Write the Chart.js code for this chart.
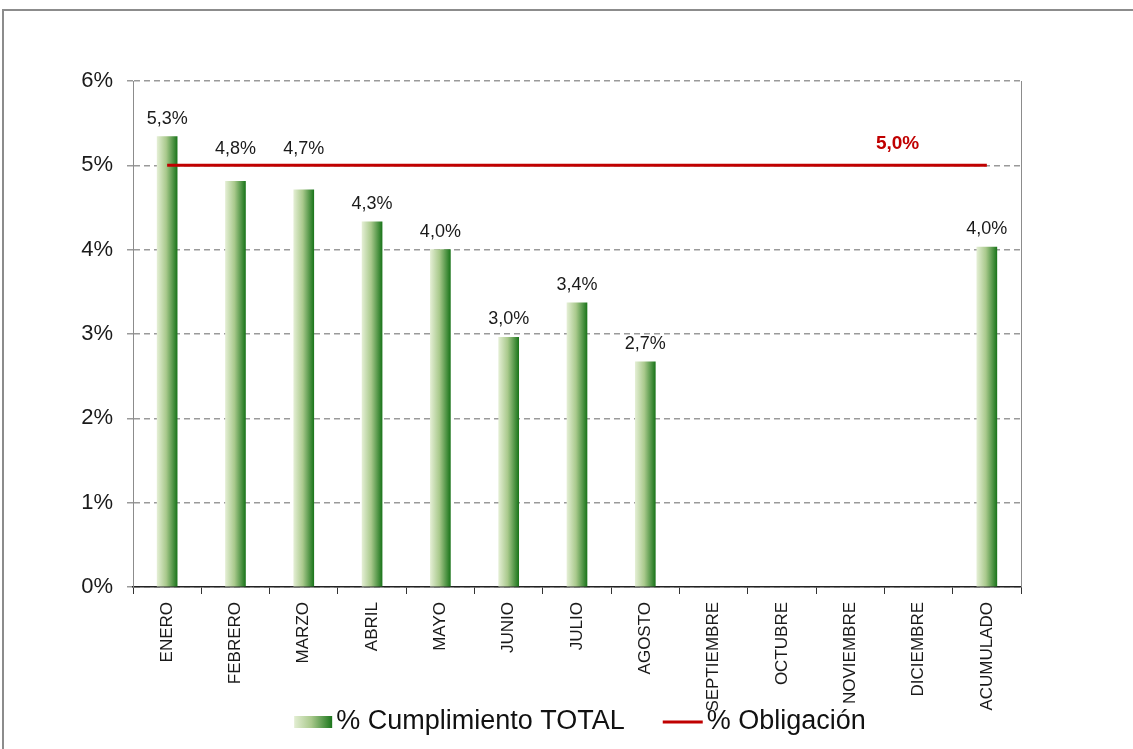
<!DOCTYPE html>
<html>
<head>
<meta charset="utf-8">
<script src="https://cdn.jsdelivr.net/npm/chart.js@4.4.1/dist/chart.umd.min.js"></script>
<style>
  html, body { margin: 0; padding: 0; background: #ffffff; }
  #wrap { width: 1133px; height: 749px; position: relative; }
</style>
</head>
<body>
<div id="wrap"><canvas id="c" width="1133" height="749"></canvas></div>
<script>
// ---- data ----
const categories = ["ENERO", "FEBRERO", "MARZO", "ABRIL", "MAYO", "JUNIO", "JULIO", "AGOSTO", "SEPTIEMBRE", "OCTUBRE", "NOVIEMBRE", "DICIEMBRE", "ACUMULADO"];
const cumplimiento = [5.34, 4.81, 4.71, 4.33, 4.00, 2.96, 3.37, 2.67, null, null, null, null, 4.03];
const obligacion = [5, 5, 5, 5, 5, 5, 5, 5, 5, 5, 5, 5, 5];
const yTicks = [0, 1, 2, 3, 4, 5, 6];
const seriesNames = ["% Cumplimiento TOTAL", "% Obligación"];

const FONT = '"Liberation Sans", Arial, sans-serif';
const BAR_W = 20;
const fmt = v => v.toFixed(1).replace('.', ',') + '%';

function barGradient(ctx) {
  const chart = ctx.chart;
  if (!chart.chartArea || !chart.scales.x) return '#5a9a4a';
  const x = chart.scales.x.getPixelForValue(ctx.dataIndex);
  const g = chart.ctx.createLinearGradient(x - BAR_W / 2, 0, x + BAR_W / 2, 0);
  g.addColorStop(0, '#e3eed3');
  g.addColorStop(0.45, '#a9c98c');
  g.addColorStop(1, '#1c761c');
  return g;
}

const framePlugin = {
  id: 'frame',
  beforeDraw(chart) {
    const c = chart.ctx;
    c.save();
    c.fillStyle = '#ffffff';
    c.fillRect(0, 0, chart.width, chart.height);
    c.strokeStyle = '#8c8c8c';
    c.lineWidth = 2;
    c.beginPath();
    c.moveTo(3, chart.height + 5);
    c.lineTo(3, 10);
    c.lineTo(chart.width + 5, 10);
    c.stroke();
    c.restore();
  },
  afterDraw(chart) {
    const a = chart.chartArea, c = chart.ctx;
    c.save();
    c.strokeStyle = '#8c8c8c';
    c.lineWidth = 1;
    c.beginPath();
    c.moveTo(a.right + 0.5, a.top);
    c.lineTo(a.right + 0.5, a.bottom);
    c.stroke();
    c.restore();
  }
};

const labelPlugin = {
  id: 'valueLabels',
  afterDatasetsDraw(chart) {
    const c = chart.ctx;
    const ys = chart.scales.y, xs = chart.scales.x;
    const meta = chart.getDatasetMeta(1);
    c.save();
    c.font = '18px ' + FONT;
    c.fillStyle = '#1a1a1a';
    c.textAlign = 'center';
    c.textBaseline = 'middle';
    meta.data.forEach((bar, i) => {
      const v = cumplimiento[i];
      if (v === null || v === undefined) return;
      let ly = bar.y - 18;
      const lineY = ys.getPixelForValue(obligacion[i]);
      if (v < obligacion[i] && ly + 10 > lineY - 3 && ly - 10 < lineY + 3) {
        ly = lineY - 16;
      }
      c.fillText(fmt(v), bar.x, ly);
    });
    const idx = 11;
    c.font = 'bold 19px ' + FONT;
    c.fillStyle = '#c00000';
    c.fillText(fmt(obligacion[idx]), xs.getPixelForValue(idx) - 21, ys.getPixelForValue(obligacion[idx]) - 22);
    c.restore();
  }
};

const legendPlugin = {
  id: 'customLegend',
  afterDraw(chart) {
    const c = chart.ctx;
    c.save();
    c.font = '27px ' + FONT;
    c.textBaseline = 'middle';
    c.textAlign = 'left';
    const y = 722;
    const boxW = 38, lineW = 40, gapT = 4, gapItems = 38;
    const w1 = c.measureText(seriesNames[0]).width;
    const w2 = c.measureText(seriesNames[1]).width;
    const total = boxW + gapT + w1 + gapItems + lineW + gapT + w2;
    let x = 580 - total / 2;
    const g = c.createLinearGradient(x, 0, x + boxW, 0);
    g.addColorStop(0, '#e3eed3');
    g.addColorStop(0.45, '#a9c98c');
    g.addColorStop(1, '#1c761c');
    c.fillStyle = g;
    c.fillRect(x, y - 6, boxW, 12);
    x += boxW + gapT;
    c.fillStyle = '#111';
    c.fillText(seriesNames[0], x, y);
    x += w1 + gapItems;
    c.strokeStyle = '#c00000';
    c.lineWidth = 3;
    c.beginPath();
    c.moveTo(x, y);
    c.lineTo(x + lineW, y);
    c.stroke();
    x += lineW + gapT;
    c.fillText(seriesNames[1], x, y);
    c.restore();
  }
};

new Chart(document.getElementById('c'), {
  type: 'bar',
  data: {
    labels: categories,
    datasets: [
      {
        type: 'line',
        label: seriesNames[1],
        data: obligacion,
        borderColor: '#c00000',
        borderWidth: 3,
        pointRadius: 0,
        fill: false,
        order: 0
      },
      {
        type: 'bar',
        label: seriesNames[0],
        data: cumplimiento,
        backgroundColor: barGradient,
        borderWidth: 0,
        barThickness: BAR_W,
        order: 1
      }
    ]
  },
  options: {
    responsive: false,
    animation: false,
    devicePixelRatio: 1,
    layout: { padding: { left: 0, right: 112, top: 81, bottom: 0 } },
    plugins: {
      legend: { display: false },
      tooltip: { enabled: false },
      title: { display: false }
    },
    scales: {
      x: {
        offset: true,
        grid: {
          display: true,
          offset: true,
          drawOnChartArea: false,
          drawTicks: true,
          tickLength: 7,
          color: '#333333',
          tickColor: '#333333',
          lineWidth: 1
        },
        border: { display: true, color: '#222222', width: 1.5 },
        ticks: {
          autoSkip: false,
          minRotation: 90,
          maxRotation: 90,
          padding: 8,
          color: '#1a1a1a',
          font: { family: FONT, size: 17 }
        },
        afterFit(scale) { scale.height = 162; }
      },
      y: {
        min: yTicks[0],
        max: yTicks[yTicks.length - 1],
        afterBuildTicks(scale) { scale.ticks = yTicks.map(v => ({ value: v })); },
        grid: {
          color: '#9a9a9a',
          lineWidth: 1.5,
          drawTicks: true,
          tickLength: 6,
          tickColor: '#9a9a9a',
          tickBorderDash: []
        },
        border: { display: true, color: '#8c8c8c', width: 1, dash: [6, 4] },
        ticks: {
          padding: 14,
          color: '#1a1a1a',
          font: { family: FONT, size: 22 },
          callback: v => v + '%'
        },
        afterFit(scale) { scale.width = 133; }
      }
    }
  },
  plugins: [framePlugin, labelPlugin, legendPlugin]
});
</script>
</body>
</html>
